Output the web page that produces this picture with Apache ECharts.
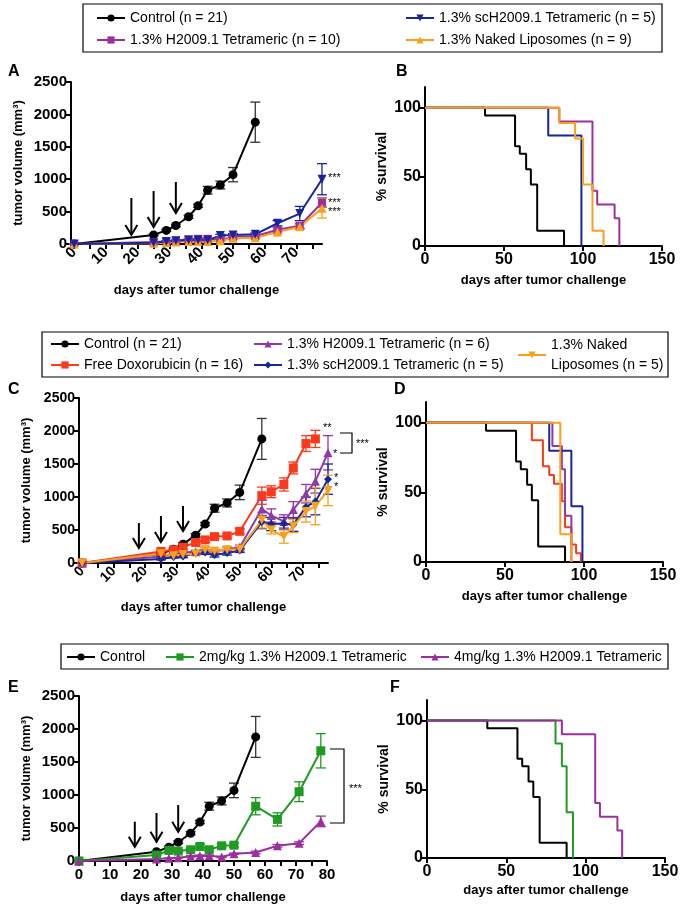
<!DOCTYPE html>
<html>
<head>
<meta charset="utf-8">
<script src="https://cdn.jsdelivr.net/npm/echarts@6/dist/echarts.min.js"></script>
<style>
  html, body { margin: 0; padding: 0; background: #fff; }
  #chart { width: 683px; height: 910px; }
</style>
</head>
<body>
<div id="chart"></div>
<script>
  // ---- data ----
  const daysA = [0, 25, 29, 32, 36, 39, 42, 46, 50, 57, 64, 71, 78]
  const daysC = [0, 25, 29, 32, 36, 39, 42, 46, 50, 57, 60, 64, 67, 71, 74, 78]
  const daysCtrl = [0, 25, 29, 32, 36, 39, 42, 46, 50, 57]

  const ctrlVol = [0, 140, 210, 285, 420, 590, 830, 910, 1070, 1880]
  const ctrlErr = [0, 10, 15, 20, 25, 25, 60, 60, 110, 310]

  // panel A
  const aH2009Vol = [0, 30, 40, 50, 70, 80, 80, 60, 110, 120, 220, 280, 640]
  const aH2009Err = [0, 5, 5, 10, 10, 10, 10, 10, 20, 20, 30, 40, 70]
  const aScVol = [0, 20, 40, 50, 60, 60, 60, 130, 140, 150, 320, 470, 1000]
  const aScErr = [0, 5, 10, 10, 10, 10, 10, 20, 20, 20, 40, 110, 240]
  const aNakedVol = [0, 10, 20, 30, 40, 40, 40, 50, 90, 95, 185, 265, 550]
  const aNakedErr = [0, 5, 5, 5, 10, 10, 10, 10, 20, 20, 30, 40, 150]

  // panel C
  const cDoxVol = [0, 175, 200, 240, 310, 350, 400, 410, 480, 1020, 1080, 1190, 1440, 1810, 1880]
  const cDoxErr = [0, 20, 20, 30, 30, 30, 30, 30, 40, 130, 90, 100, 90, 120, 130]
  const cH2009Vol = [0, 100, 130, 160, 170, 210, 170, 210, 240, 820, 720, 630, 810, 1050, 1240, 1670]
  const cH2009Err = [0, 20, 20, 20, 20, 30, 30, 30, 30, 130, 100, 100, 120, 140, 180, 260]
  const cScVol = [0, 60, 90, 100, 150, 160, 120, 150, 190, 620, 590, 600, 580, 850, 930, 1270]
  const cScErr = [0, 10, 20, 20, 20, 30, 30, 30, 30, 100, 100, 90, 100, 150, 200, 230]
  const cNakedVol = [0, 140, 110, 130, 140, 200, 180, 200, 210, 650, 500, 400, 560, 780, 860, 1100]
  const cNakedErr = [0, 20, 20, 20, 20, 30, 30, 30, 30, 120, 60, 100, 100, 160, 280, 230]

  // panel E
  const e2mgVol = [0, 90, 160, 150, 170, 220, 170, 230, 240, 830, 630, 1050, 1670]
  const e2mgErr = [0, 10, 20, 20, 20, 30, 20, 30, 30, 130, 100, 150, 260]
  const e4mgVol = [0, 30, 40, 50, 70, 80, 80, 60, 110, 130, 230, 270, 600]
  const e4mgErr = [0, 5, 5, 5, 10, 10, 10, 10, 10, 20, 20, 20, 80]

  // treatment arrows: day, arrow top, arrow tip (mm3)
  const treatDays = [18, 25, 32]
  const arrowTopA = [710, 818, 957], arrowTipA = [140, 262, 478]
  const arrowTopC = [606, 712, 864], arrowTipC = [227, 318, 485]
  const arrowTopE = [595, 727, 848], arrowTipE = [216, 292, 444]

  // survival (day, % survival)
  const survCtrl = [[0, 100], [38, 94.4], [57, 72.2], [60, 66.7], [64, 55.6], [67, 44.4], [71, 11.1], [88, 0]]
  const survB_sc = [[0, 100], [78, 80], [99, 0]]
  const survB_h2009 = [[0, 100], [85, 90], [106, 40], [109, 30], [120, 20], [123, 0]]
  const survB_naked = [[0, 100], [85, 88.9], [95, 77.8], [100, 44.4], [106, 11.1], [113, 0]]
  const survD_dox = [[0, 100], [67, 87.5], [74, 68.75], [78, 62.5], [81, 56.25], [86, 43.75], [88, 25], [92, 12.5], [95, 6.25], [98, 0]]
  const survD_h2009 = [[0, 100], [80, 83.3], [86, 66.7], [88, 33.3], [92, 0]]
  const survD_sc = [[0, 100], [78, 80], [92, 40], [99, 0]]
  const survD_naked = [[0, 100], [85, 20], [92, 0]]
  const survF_2mg = [[0, 100], [81, 83.3], [85, 66.7], [88, 33.3], [92, 0]]
  const survF_4mg = survB_h2009

  const dayTicksAC = [0, 5, 10, 15, 20, 25, 30, 35, 40, 45, 50, 55, 60, 65, 70, 75]
  const dayLabelsAC = [0, 10, 20, 30, 40, 50, 60, 70]
  const survTicks = [0, 50, 100]

  // ---- names / colours ----
  const N_CTRL = 'Control (n = 21)'
  const N_A_H = '1.3% H2009.1 Tetrameric (n = 10)'
  const N_A_SC = '1.3% scH2009.1 Tetrameric (n = 5)'
  const N_A_NK = '1.3% Naked Liposomes (n = 9)'
  const N_C_DOX = 'Free Doxorubicin (n = 16)'
  const N_C_H = '1.3% H2009.1 Tetrameric (n = 6)'
  const N_C_SC = '1.3% scH2009.1 Tetrameric (n = 5)\u200b'
  const N_C_NK = '1.3% Naked\nLiposomes (n = 5)'
  const N_E_CTRL = 'Control'
  const N_E_2 = '2mg/kg 1.3% H2009.1 Tetrameric'
  const N_E_4 = '4mg/kg 1.3% H2009.1 Tetrameric'

  const BLACK = '#000000', PURPLE = '#9b2f9e', BLUE = '#17279b', ORANGE = '#f8a11c'
  const RED = '#fb3a1d', VIOLET = '#8e3aa8', GREEN = '#1f9a22'
  const FONT = 'Liberation Sans, Arial, sans-serif'

  // ---- helpers ----
  function pts(days, vals) {
    return days.map((d, i) => [d, vals[i]])
  }
  function volSeries(name, idx, days, vals, color, symbol, size, rot) {
    return {
      name: name, type: 'line', xAxisIndex: idx, yAxisIndex: idx,
      data: pts(days, vals), symbol: symbol, symbolSize: size, symbolRotate: rot || 0,
      itemStyle: { color: color }, lineStyle: { color: color, width: 2 }, z: 3, silent: true
    }
  }
  function errSeries(idx, days, vals, errs, color) {
    return {
      type: 'custom', xAxisIndex: idx, yAxisIndex: idx, silent: true, z: 2,
      encode: { x: 0, y: 1 },
      data: days.map((d, i) => [d, vals[i], errs[i]]),
      renderItem: function (params, api) {
        let x = api.value(0), y = api.value(1), e = api.value(2)
        let hi = api.coord([x, y + e]), lo = api.coord([x, Math.max(y - e, 0)])
        let w = 5, st = { stroke: color, lineWidth: 1.3 }
        return {
          type: 'group', children: [
            { type: 'line', shape: { x1: hi[0], y1: hi[1], x2: lo[0], y2: lo[1] }, style: st },
            { type: 'line', shape: { x1: hi[0] - w, y1: hi[1], x2: hi[0] + w, y2: hi[1] }, style: st },
            { type: 'line', shape: { x1: lo[0] - w, y1: lo[1], x2: lo[0] + w, y2: lo[1] }, style: st }
          ]
        }
      }
    }
  }
  function arrowSeries(idx, tops, tips) {
    return {
      type: 'custom', xAxisIndex: idx, yAxisIndex: idx, silent: true, z: 4,
      encode: { x: 0, y: 1 },
      data: treatDays.map((d, i) => [d, tips[i], tops[i]]),
      renderItem: function (params, api) {
        let tip = api.coord([api.value(0), api.value(1)])
        let top = api.coord([api.value(0), api.value(2)])
        let st = { stroke: '#000', lineWidth: 2 }
        return {
          type: 'group', children: [
            { type: 'line', shape: { x1: top[0], y1: top[1], x2: tip[0], y2: tip[1] }, style: st },
            { type: 'polyline', shape: { points: [[tip[0] - 6, tip[1] - 10], [tip[0], tip[1]], [tip[0] + 6, tip[1] - 10]] }, style: { stroke: '#000', lineWidth: 2, fill: null } }
          ]
        }
      }
    }
  }
  function survSeries(name, idx, data, color) {
    return {
      name: name, type: 'line', step: 'end', xAxisIndex: idx, yAxisIndex: idx,
      data: data, symbol: 'none', itemStyle: { color: color },
      lineStyle: { color: color, width: 2 }, z: 3, silent: true
    }
  }

  const axLine = { show: true, onZero: false, lineStyle: { color: '#000', width: 2 } }
  const axTick = { show: true, length: 5, lineStyle: { color: '#000', width: 2 } }
  const plain = function (v) { return String(v) }
  function labelStyle(size) {
    return { color: '#000', fontWeight: 'bold', fontFamily: FONT, fontSize: size, formatter: plain }
  }
  function nameStyle(size) {
    return { color: '#000', fontWeight: 'bold', fontFamily: FONT, fontSize: size }
  }
  function tumorY(idx, fs, gap) {
    return {
      type: 'value', gridIndex: idx, min: 0, max: 2500, interval: 500,
      name: 'tumor volume (mm³)', nameLocation: 'middle', nameGap: gap, nameRotate: 90,
      nameTextStyle: nameStyle(13),
      axisLine: axLine, axisTick: axTick, splitLine: { show: false },
      axisLabel: Object.assign({ margin: 4 }, labelStyle(fs))
    }
  }
  function tumorXRot(idx, fs, gap) {
    return {
      type: 'value', gridIndex: idx, min: -1, max: 78,
      name: 'days after tumor challenge', nameLocation: 'middle', nameGap: gap,
      nameTextStyle: nameStyle(13),
      axisLine: axLine, splitLine: { show: false },
      axisTick: Object.assign({ customValues: dayTicksAC }, axTick),
      axisLabel: Object.assign({ customValues: dayLabelsAC, rotate: 45, margin: 6 }, labelStyle(fs))
    }
  }
  function survX(idx, gap) {
    return {
      type: 'value', gridIndex: idx, min: 0, max: 150, interval: 50,
      name: 'days after tumor challenge', nameLocation: 'middle', nameGap: gap,
      nameTextStyle: nameStyle(13),
      axisLine: axLine, axisTick: axTick, splitLine: { show: false },
      axisLabel: Object.assign({ margin: 6 }, labelStyle(16))
    }
  }
  function survY(idx) {
    return {
      type: 'value', gridIndex: idx, min: 0, max: 115,
      name: '% survival', nameLocation: 'middle', nameGap: 36, nameRotate: 90,
      nameTextStyle: nameStyle(14),
      axisLine: axLine, splitLine: { show: false },
      axisTick: Object.assign({ customValues: survTicks }, axTick),
      axisLabel: Object.assign({ customValues: survTicks, margin: 4 }, labelStyle(16))
    }
  }
  function legendItem(name, left, top, lh) {
    return {
      left: left, top: top, data: [name], padding: 0, itemGap: 0,
      itemWidth: 28, itemHeight: 9, selectedMode: false,
      textStyle: { fontSize: 14, fontFamily: FONT, color: '#000', lineHeight: lh || 16 }
    }
  }
  function txt(t, x, y, size, bold, align) {
    return {
      type: 'text', silent: true,
      style: {
        text: t, x: x, y: y, fill: '#000', fontSize: size, fontFamily: FONT,
        fontWeight: bold ? 'bold' : 'normal', textAlign: align || 'left', textVerticalAlign: 'middle',
        align: align || 'left', verticalAlign: 'middle'
      }
    }
  }
  function box(x, y, w, h) {
    return { type: 'rect', silent: true, shape: { x: x, y: y, width: w, height: h }, style: { fill: 'none', stroke: '#000', lineWidth: 1.2 } }
  }
  function bracket(points) {
    return { type: 'polyline', silent: true, shape: { points: points }, style: { fill: null, stroke: '#000', lineWidth: 1.2 } }
  }

  let option = {
    backgroundColor: '#ffffff',
    animation: false,
    grid: [
      { left: 71, top: 82, width: 251, height: 162 },
      { left: 425, top: 87, width: 237, height: 159 },
      { left: 79, top: 398, width: 249, height: 165 },
      { left: 426, top: 402, width: 237, height: 160 },
      { left: 79, top: 696, width: 248, height: 165 },
      { left: 427, top: 700, width: 238, height: 158 }
    ],
    xAxis: [
      tumorXRot(0, 15, 40),
      survX(1, 28),
      tumorXRot(2, 14, 38),
      survX(3, 28),
      {
        type: 'value', gridIndex: 4, min: 0, max: 80,
        name: 'days after tumor challenge', nameLocation: 'middle', nameGap: 30,
        nameTextStyle: nameStyle(13),
        axisLine: axLine, splitLine: { show: false },
        axisTick: Object.assign({ customValues: dayTicksAC.concat([80]) }, axTick),
        axisLabel: Object.assign({ customValues: dayLabelsAC.concat([80]), margin: 6 }, labelStyle(15))
      },
      survX(5, 26)
    ],
    yAxis: [
      tumorY(0, 15, 46),
      survY(1),
      tumorY(2, 14, 46),
      survY(3),
      tumorY(4, 15, 46),
      survY(5)
    ],
    legend: [
      legendItem(N_CTRL, 96, 10),
      legendItem(N_A_H, 96, 32),
      legendItem(N_A_SC, 405, 10),
      legendItem(N_A_NK, 405, 32),

      legendItem(N_CTRL, 50, 336),
      legendItem(N_C_DOX, 50, 357),
      legendItem(N_C_H, 253, 336),
      legendItem(N_C_SC, 253, 357),
      legendItem(N_C_NK, 517, 335, 20),

      legendItem(N_E_CTRL, 66, 649),
      legendItem(N_E_2, 165, 649),
      legendItem(N_E_4, 420, 649)
    ],
    graphic: [
      box(83, 4, 579, 48),
      box(42, 332, 626, 45),
      box(61, 644, 607, 25),
      txt('A', 8, 72, 16, true),
      txt('B', 396, 72, 16, true),
      txt('C', 8, 390, 16, true),
      txt('D', 394, 390, 16, true),
      txt('E', 8, 688, 16, true),
      txt('F', 390, 688, 16, true),
      txt('***', 328, 178, 11, false),
      txt('***', 328, 203, 11, false),
      txt('***', 328, 212, 11, false),
      txt('**', 323, 428, 11, false),
      txt('*', 333, 454, 11, false),
      txt('*', 334, 478, 11, false),
      txt('*', 334, 487, 11, false),
      bracket([[340, 433], [352, 433], [352, 453], [340, 453]]),
      txt('***', 356, 444, 11, false),
      bracket([[330, 749], [344, 749], [344, 823], [330, 823]]),
      txt('***', 349, 789, 11, false)
    ],
    series: [
      // A
      errSeries(0, daysCtrl, ctrlVol, ctrlErr, '#333'),
      errSeries(0, daysA, aScVol, aScErr, BLUE),
      errSeries(0, daysA, aH2009Vol, aH2009Err, PURPLE),
      errSeries(0, daysA, aNakedVol, aNakedErr, ORANGE),
      volSeries(N_CTRL, 0, daysCtrl, ctrlVol, BLACK, 'circle', 9),
      volSeries(N_A_H, 0, daysA, aH2009Vol, PURPLE, 'rect', 8),
      volSeries(N_A_NK, 0, daysA, aNakedVol, ORANGE, 'triangle', 9),
      volSeries(N_A_SC, 0, daysA, aScVol, BLUE, 'triangle', 9, 180),
      arrowSeries(0, arrowTopA, arrowTipA),
      // C
      errSeries(2, daysCtrl, ctrlVol, ctrlErr, '#333'),
      errSeries(2, daysC.slice(0, 15), cDoxVol, cDoxErr, RED),
      errSeries(2, daysC, cH2009Vol, cH2009Err, VIOLET),
      errSeries(2, daysC, cScVol, cScErr, BLUE),
      errSeries(2, daysC, cNakedVol, cNakedErr, ORANGE),
      volSeries(N_CTRL, 2, daysCtrl, ctrlVol, BLACK, 'circle', 9),
      volSeries(N_C_DOX, 2, daysC.slice(0, 15), cDoxVol, RED, 'rect', 9),
      volSeries(N_C_H, 2, daysC, cH2009Vol, VIOLET, 'triangle', 9),
      volSeries(N_C_SC, 2, daysC, cScVol, BLUE, 'diamond', 8),
      volSeries(N_C_NK, 2, daysC, cNakedVol, ORANGE, 'triangle', 9, 180),
      arrowSeries(2, arrowTopC, arrowTipC),
      // E
      errSeries(4, daysCtrl, ctrlVol, ctrlErr, '#333'),
      errSeries(4, daysA, e2mgVol, e2mgErr, GREEN),
      errSeries(4, daysA, e4mgVol, e4mgErr, PURPLE),
      volSeries(N_E_CTRL, 4, daysCtrl, ctrlVol, BLACK, 'circle', 9),
      volSeries(N_E_2, 4, daysA, e2mgVol, GREEN, 'rect', 9),
      volSeries(N_E_4, 4, daysA, e4mgVol, PURPLE, 'triangle', 9),
      arrowSeries(4, arrowTopE, arrowTipE),
      // B
      survSeries(N_CTRL, 1, survCtrl, BLACK),
      survSeries(N_A_SC, 1, survB_sc, BLUE),
      survSeries(N_A_H, 1, survB_h2009, PURPLE),
      survSeries(N_A_NK, 1, survB_naked, ORANGE),
      // D
      survSeries(N_CTRL, 3, survCtrl, BLACK),
      survSeries(N_C_DOX, 3, survD_dox, RED),
      survSeries(N_C_H, 3, survD_h2009, VIOLET),
      survSeries(N_C_SC, 3, survD_sc, BLUE),
      survSeries(N_C_NK, 3, survD_naked, ORANGE),
      // F
      survSeries(N_E_CTRL, 5, survCtrl, BLACK),
      survSeries(N_E_2, 5, survF_2mg, GREEN),
      survSeries(N_E_4, 5, survF_4mg, PURPLE)
    ]
  }

  let myChart = echarts.init(document.getElementById('chart'), null, { renderer: 'canvas' })
  myChart.setOption(option)
</script>
</body>
</html>
